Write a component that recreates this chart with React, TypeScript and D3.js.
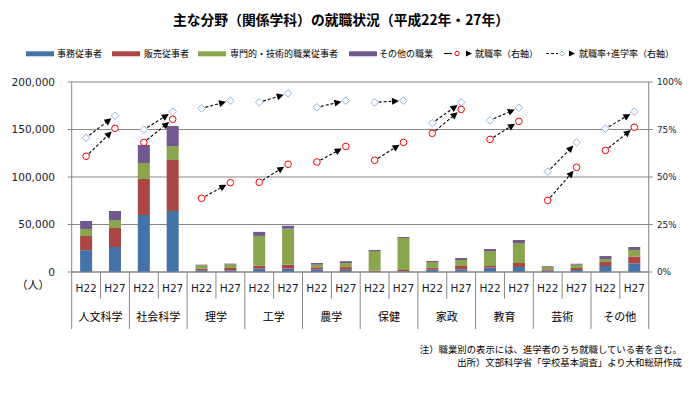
import * as React from "react";
import * as d3 from "d3";

const categories = ["人文科学", "社会科学", "理学", "工学", "農学", "保健", "家政", "教育", "芸術", "その他"];
const periods = ["H22", "H27"];

// 人数（H22, H27 の順に各分野）
const office = [23000, 26300, 60000, 64200, 1800, 1800, 3500, 3500, 2800, 2300, 300, 700, 2500, 2800, 4600, 5300, 1400, 2100, 6300, 9000];
const sales = [14900, 20000, 37900, 53700, 1800, 2500, 3100, 4200, 2100, 2800, 1000, 1400, 1900, 3500, 1700, 4200, 1400, 2100, 4200, 7300];
const professional = [7400, 8400, 16800, 14700, 3400, 3500, 31400, 37900, 2800, 4200, 20800, 33700, 6100, 6300, 15800, 21000, 2800, 3500, 3200, 6900];
const otherJobs = [8400, 9500, 19000, 21100, 700, 1000, 4200, 3100, 1800, 2100, 1100, 1000, 1100, 2100, 2100, 3200, 700, 1000, 3100, 3100];

// 率（%）
const employmentRate = [60.9, 75.6, 68.2, 80.4, 38.8, 47.0, 47.2, 56.7, 57.9, 66.1, 58.8, 68.2, 73.0, 85.6, 69.8, 79.3, 37.7, 55.1, 64.0, 76.2];
const employmentPlusAdvance = [70.7, 82.3, 74.9, 84.4, 86.1, 90.2, 89.3, 94.0, 86.7, 90.2, 89.3, 90.2, 78.4, 89.3, 79.8, 86.5, 52.8, 68.2, 75.4, 84.4];

const leftTicks = [0, 50000, 100000, 150000, 200000];
const rightTicks = [0, 25, 50, 75, 100];

const stackKeys = ["office", "sales", "professional", "otherJobs"] as const;
const stackLabels = ["事務従事者", "販売従事者", "専門的・技術的職業従事者", "その他の職業"];
const stackColors = ["#4572A7", "#AA4643", "#89A54E", "#71588F"];

const title = "主な分野（関係学科）の就職状況（平成22年・27年）";
const notes = ["注）職業別の表示には、進学者のうち就職している者を含む。", "出所）文部科学省「学校基本調査」より大和総研作成"];

const W = 694;
const H = 396;
const PLOT = { left: 71.7, right: 648.7, top: 82, bottom: 272 };
const GRID = "#878787";
const JP = "'Noto Sans CJK JP', 'Noto Sans', sans-serif";
const NUM = "'DejaVu Sans', Verdana, sans-serif";

const rows = categories.flatMap((c, ci) =>
  periods.map((p, pi) => {
    const i = ci * 2 + pi;
    return {
      key: `${c}-${p}`,
      cat: c,
      period: p,
      office: office[i],
      sales: sales[i],
      professional: professional[i],
      otherJobs: otherJobs[i],
      rate: employmentRate[i],
      ratePlus: employmentPlusAdvance[i],
    };
  }),
);

function Arrow({ x1, y1, x2, y2 }: { x1: number; y1: number; x2: number; y2: number }) {
  const dx = x2 - x1;
  const dy = y2 - y1;
  const len = Math.hypot(dx, dy);
  const ux = dx / len;
  const uy = dy / len;
  const tipX = x2 - ux * 4.5;
  const tipY = y2 - uy * 4.5;
  const baseX = tipX - ux * 7;
  const baseY = tipY - uy * 7;
  const px = -uy * 3.5;
  const py = ux * 3.5;
  return (
    <g>
      <line x1={x1 + ux * 4} y1={y1 + uy * 4} x2={baseX + ux} y2={baseY + uy} stroke="#000" strokeWidth={1.1} strokeDasharray="3 2" />
      <path d={`M${tipX},${tipY}L${baseX + px},${baseY + py}L${baseX - px},${baseY - py}Z`} fill="#000" />
    </g>
  );
}

function diamond(cx: number, cy: number, r: number) {
  return `M${cx},${cy - r}L${cx + r},${cy}L${cx},${cy + r}L${cx - r},${cy}Z`;
}

export default function App() {
  const x = d3.scaleBand().domain(rows.map((r) => r.key)).range([PLOT.left, PLOT.right]);
  const yL = d3.scaleLinear().domain([0, 200000]).range([PLOT.bottom, PLOT.top]);
  const yR = d3.scaleLinear().domain([0, 100]).range([PLOT.bottom, PLOT.top]);
  const bw = x.bandwidth();
  const barW = 12;
  const cx = (k: string) => (x(k) ?? 0) + bw / 2;

  const stacked = d3.stack<any>().keys(stackKeys as unknown as string[])(rows);
  const fmt = d3.format(",");

  const legendBoxes = [
    { x: 26, tx: 57 },
    { x: 112, tx: 144 },
    { x: 198, tx: 230 },
    { x: 349, tx: 379 },
  ];

  return (
    <div style={{ position: "absolute", left: 0, top: 0 }}>
      <svg width={W} height={H} style={{ display: "block", background: "#fff" }}>
        <text x={341} y={20} dy="0.35em" textAnchor="middle" fontFamily={JP} fontWeight={700} fontSize={13.8} fill="#000">
          {title}
        </text>

        {/* 凡例 */}
        {stackLabels.map((l, i) => (
          <g key={l}>
            <rect x={legendBoxes[i].x} y={51.3} width={28} height={5} fill={stackColors[i]} />
            <text x={legendBoxes[i].tx} y={53.5} dy="0.35em" fontFamily={JP} fontSize={9} fill="#000">
              {l}
            </text>
          </g>
        ))}
        <line x1={444} x2={452} y1={53.5} y2={53.5} stroke="#000" />
        <circle cx={457} cy={53.5} r={2.2} fill="#fff" stroke="#ff0000" strokeWidth={1} />
        <path d="M466,50.5L472,53.5L466,56.5Z" fill="#000" />
        <text x={475} y={53.5} dy="0.35em" fontFamily={JP} fontSize={9} fill="#000">就職率（右軸）</text>
        <line x1={546} x2={558} y1={53.5} y2={53.5} stroke="#000" strokeDasharray="3 2" />
        <path d={diamond(562, 53.5, 2.5)} fill="#fff" stroke="#8DB4E2" strokeWidth={1} />
        <path d="M569,50.5L575,53.5L569,56.5Z" fill="#000" />
        <text x={579} y={53.5} dy="0.35em" fontFamily={JP} fontSize={9} fill="#000">就職率+進学率（右軸）</text>

        {/* グリッド */}
        {leftTicks.map((t) => (
          <g key={t}>
            <line x1={PLOT.left - 4} x2={PLOT.right + 4} y1={yL(t)} y2={yL(t)} stroke={GRID} strokeWidth={1} />
            <text x={55} y={yL(t)} dy="0.35em" textAnchor="end" fontFamily={NUM} fontSize={10.5} fill="#1a1a2a">
              {fmt(t)}
            </text>
          </g>
        ))}
        {rightTicks.map((t) => (
          <text key={t} x={657} y={yR(t)} dy="0.35em" fontFamily={NUM} fontSize={8.8} fill="#1a1a2a">
            {t}%
          </text>
        ))}

        {/* 積み上げ棒 */}
        {stacked.map((layer, li) =>
          layer.map((d) => (
            <rect
              key={`${li}-${d.data.key}`}
              x={cx(d.data.key) - barW / 2}
              y={yL(d[1])}
              width={barW}
              height={Math.max(0, yL(d[0]) - yL(d[1]))}
              fill={stackColors[li]}
            />
          )),
        )}

        {/* 軸 */}
        <line x1={PLOT.left} x2={PLOT.left} y1={PLOT.top} y2={329} stroke={GRID} />
        <line x1={PLOT.right} x2={PLOT.right} y1={PLOT.top} y2={329} stroke={GRID} />
        <line x1={PLOT.left} x2={PLOT.right} y1={PLOT.bottom} y2={PLOT.bottom} stroke={GRID} />
        {rows.map((r, i) =>
          i === 0 ? null : (
            <line key={`sep-${r.key}`} x1={x(r.key)} x2={x(r.key)} y1={PLOT.bottom} y2={i % 2 === 0 ? 329 : 298.7} stroke={GRID} />
          ),
        )}
        {rows.map((r) => (
          <text key={`lab-${r.key}`} x={cx(r.key)} y={288} dy="0.35em" textAnchor="middle" fontFamily={NUM} fontSize={10.5} fill="#1a1a2a">
            {r.period}
          </text>
        ))}
        {categories.map((c, ci) => (
          <text key={`cat-${c}`} x={(x(rows[ci * 2].key) ?? 0) + bw} y={317} dy="0.35em" textAnchor="middle" fontFamily={JP} fontSize={11} fill="#000">
            {c}
          </text>
        ))}
        <text x={33} y={285} dy="0.35em" textAnchor="middle" fontFamily={JP} fontSize={11} fill="#000">（人）</text>

        {/* 率の矢印 */}
        {categories.map((c, ci) => {
          const a = rows[ci * 2];
          const b = rows[ci * 2 + 1];
          return (
            <g key={`arr-${c}`}>
              <Arrow x1={cx(a.key)} y1={yR(a.ratePlus)} x2={cx(b.key)} y2={yR(b.ratePlus)} />
              <Arrow x1={cx(a.key)} y1={yR(a.rate)} x2={cx(b.key)} y2={yR(b.rate)} />
            </g>
          );
        })}
        {rows.map((r) => (
          <g key={`mk-${r.key}`}>
            <path d={diamond(cx(r.key), yR(r.ratePlus), 3.8)} fill="#fff" stroke="#8DB4E2" strokeWidth={1} />
            <circle cx={cx(r.key)} cy={yR(r.rate)} r={3.3} fill="#fff" stroke="#ff0000" strokeWidth={1} />
          </g>
        ))}

        {notes.map((n, i) => (
          <text key={n} x={682} y={350 + i * 13} dy="0.35em" textAnchor="end" fontFamily={JP} fontSize={9.4} fill="#000">
            {n}
          </text>
        ))}
      </svg>
    </div>
  );
}
